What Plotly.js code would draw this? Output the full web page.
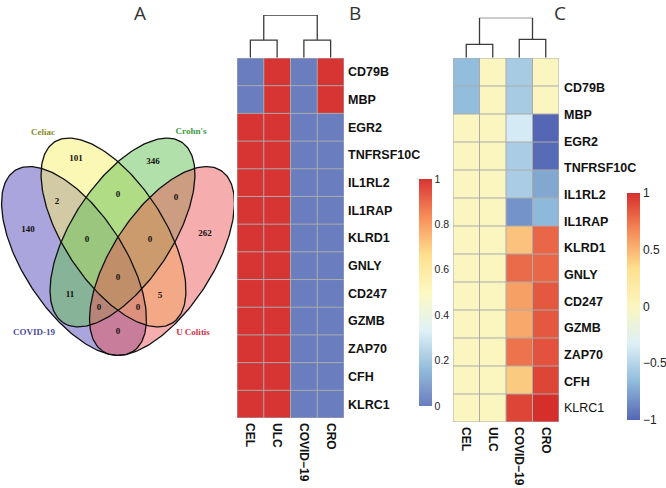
<!DOCTYPE html>
<html><head><meta charset="utf-8">
<script src="https://cdn.plot.ly/plotly-3.0.1.min.js"></script>
<style>html,body{margin:0;padding:0;background:#fff}#chart{width:666px;height:488px}</style>
</head><body><div id="chart"></div>
<script>
// ---------------- data ----------------
const genes   = ['CD79B','MBP','EGR2','TNFRSF10C','IL1RL2','IL1RAP','KLRD1','GNLY','CD247','GZMB','ZAP70','CFH','KLRC1'];
const columns = ['CEL','ULC','COVID\u221219','CRO'];
// Panel B (0..1)
const bCEL   = [0,0,1,1,1,1,1,1,1,1,1,1,1];
const bULC   = [1,1,1,1,1,1,1,1,1,1,1,1,1];
const bCOVID = [0,0,0,0,0,0,0,0,0,0,0,0,0];
const bCRO   = [1,1,0,0,0,0,0,0,0,0,0,0,0];
// Panel C (-1..1)
const cCEL   = [-0.65,-0.65,0,0,0,0,0,0,0,0,0,0,0];
const cULC   = [0,0,0,0,0,0,0,0,0,0,0,0,0];
const cCOVID = [-0.56,-0.56,-0.37,-0.55,-0.55,-0.82,0.45,0.78,0.58,0.55,0.75,0.42,0.92];
const cCRO   = [0,0,-1,-0.98,-0.74,-0.67,0.8,0.8,0.85,0.85,0.87,0.92,1];
const cBold  = [true,true,true,true,true,true,true,true,true,true,true,true,false];
// Dendrograms (merge heights)
const dendB_pairs = [0.41, 0.41], dendB_root = 1;
const dendC_pairs = [0.335, 0.46], dendC_root = 1;
// Venn
const vennSets    = ['COVID-19','Celiac',"Crohn's",'U Colitis'];
const vennRegions = ['COVID-19','Celiac',"Crohn's",'U Colitis','COVID-19&Celiac',"Celiac&Crohn's","Crohn's&U Colitis","COVID-19&Crohn's",'Celiac&U Colitis','COVID-19&U Colitis',"COVID-19&Celiac&Crohn's","Celiac&Crohn's&U Colitis","COVID-19&Crohn's&U Colitis",'COVID-19&Celiac&U Colitis','All four'];
const vennCounts  = [140,101,346,262,2,0,0,11,5,0,0,0,0,0,0];

// ---------------- geometry / style ----------------
const W=666,H=488;
const px=v=>v/W, py=v=>1-v/H;
const SANS='Liberation Sans, Arial, sans-serif';
const SERIF='Liberation Serif, Times New Roman, serif';
const idx=genes.map((g,i)=>i);
const colIdx=columns.map((c,i)=>i);
const transpose=cols=>genes.map((g,i)=>cols.map(c=>c[i]));

const zB=transpose([bCEL,bULC,bCOVID,bCRO]);
const zC=transpose([cCEL,cULC,cCOVID,cCRO]);

const scaleB=[[0,'#6a7dbf'],[1/6,'#94bedb'],[2/6,'#e0f1f6'],[0.5,'#fdf9c2'],[4/6,'#fedf8e'],[5/6,'#f88d5a'],[1,'#d73434']];
const scaleC=[[0,'#5566b4'],[1/6,'#8fbadb'],[2/6,'#dcf0f7'],[0.5,'#fbf6c0'],[4/6,'#fde08f'],[5/6,'#f58a58'],[1,'#d62f2b']];

// venn ellipses (pixel coordinates of the venn panel)
const ell=[
 {cx:74,   cy:261,   a:108,b:50,ang:56.8,  fill:'rgba(86,76,186,0.5)'},
 {cx:113.5,cy:232.5, a:108,b:50,ang:56.8,  fill:'rgba(248,240,108,0.5)'},
 {cx:122.5,cy:232.5, a:108,b:50,ang:123.2, fill:'rgba(100,194,86,0.5)'},
 {cx:162,  cy:261,   a:108,b:50,ang:123.2, fill:'rgba(234,84,84,0.48)'}
];
const regionPos=[[28,230],[76,159],[153,162],[205,234],[57,202],[118,195],[176,198],[70,295],[160,296],[118,332],[87,240],[150,240],[99,308],[138,308],[118,278]];
const setPos=[[34,333],[43,133],[191,132],[193,333]];
const setColors=['#4b4b9b','#8a8a2a','#3f9a3f','#d2344a'];

function ellipsePts(e){
  const xs=[],ys=[],r=e.ang*Math.PI/180;
  for(let k=0;k<=240;k++){const t=2*Math.PI*k/240;
    xs.push(e.cx+e.a*Math.cos(t)*Math.cos(r)-e.b*Math.sin(t)*Math.sin(r));
    ys.push(e.cy+e.a*Math.cos(t)*Math.sin(r)+e.b*Math.sin(t)*Math.cos(r));}
  return {xs,ys};
}
function dendro(pairs,root){
  return {x:[0,0,1,1,null,2,2,3,3,null,0.5,0.5,2.5,2.5],
          y:[0,pairs[0],pairs[0],0,null,0,pairs[1],pairs[1],0,null,pairs[0],root,root,pairs[1]]};
}

const traces=[];
traces.push({type:'heatmap',z:zB,x:colIdx,y:idx,xaxis:'x',yaxis:'y',zmin:0,zmax:1,colorscale:scaleB,hoverinfo:'skip',
  colorbar:{x:px(419),xanchor:'left',y:1-(179+406)/2/H,yanchor:'middle',len:(406-179)/H,lenmode:'fraction',
    thickness:13,thicknessmode:'pixels',outlinewidth:0,ticks:'',tick0:0,dtick:0.2,xpad:0,ypad:0,
    tickfont:{family:SANS,size:10.5,color:'#222'}}});
traces.push({type:'heatmap',z:zC,x:colIdx,y:idx,xaxis:'x2',yaxis:'y2',zmin:-1,zmax:1,colorscale:scaleC,hoverinfo:'skip',
  colorbar:{x:px(627),xanchor:'left',y:1-(193+420)/2/H,yanchor:'middle',len:(420-193)/H,lenmode:'fraction',
    thickness:13,thicknessmode:'pixels',outlinewidth:0,ticks:'',tickvals:[-1,-0.5,0,0.5,1],xpad:0,ypad:0,
    tickfont:{family:SANS,size:12,color:'#222'}}});
const dB=dendro(dendB_pairs,dendB_root), dC=dendro(dendC_pairs,dendC_root);
traces.push({type:'scatter',mode:'lines',x:dB.x,y:dB.y,xaxis:'x',yaxis:'y3',line:{color:'#3a3a3a',width:1.3},hoverinfo:'skip'});
traces.push({type:'scatter',mode:'lines',x:dC.x,y:dC.y,xaxis:'x2',yaxis:'y4',line:{color:'#3a3a3a',width:1.3},hoverinfo:'skip'});
traces.push({type:'scatter',mode:'markers',x:[0],y:[0],xaxis:'x2',yaxis:'y6',marker:{opacity:0},hoverinfo:'skip'});
// venn fills then outlines
ell.forEach(e=>{const p=ellipsePts(e);traces.push({type:'scatter',mode:'lines',x:p.xs,y:p.ys,xaxis:'x5',yaxis:'y5',fill:'toself',fillcolor:e.fill,line:{width:0},hoverinfo:'skip'});});
ell.forEach(e=>{const p=ellipsePts(e);traces.push({type:'scatter',mode:'lines',x:p.xs,y:p.ys,xaxis:'x5',yaxis:'y5',line:{color:'#111',width:1.3},hoverinfo:'skip'});});
traces.push({type:'scatter',mode:'text',x:regionPos.map(p=>p[0]),y:regionPos.map(p=>p[1]),text:vennCounts.map(v=>'<b>'+v+'</b>'),
  xaxis:'x5',yaxis:'y5',textfont:{family:SERIF,size:9,color:'#111'},hoverinfo:'skip'});
traces.push({type:'scatter',mode:'text',x:setPos.map(p=>p[0]),y:setPos.map(p=>p[1]),text:vennSets.map(v=>'<b>'+v+'</b>'),
  xaxis:'x5',yaxis:'y5',textfont:{family:SERIF,size:9,color:setColors},hoverinfo:'skip'});

// cell borders
const shapes=[];
function grid(xr,yr){
  for(let i=0;i<=columns.length;i++) shapes.push({type:'line',xref:xr,yref:yr,x0:i-0.5,x1:i-0.5,y0:-0.5,y1:genes.length-0.5,line:{color:'#ababab',width:1},layer:'above'});
  for(let j=0;j<=genes.length;j++) shapes.push({type:'line',xref:xr,yref:yr,x0:-0.5,x1:columns.length-0.5,y0:j-0.5,y1:j-0.5,line:{color:'#ababab',width:1},layer:'above'});
}
grid('x','y'); grid('x2','y2');

const hid={visible:false,fixedrange:true,showgrid:false,zeroline:false};
const colAxis=(dom,anchor)=>({domain:dom,anchor:anchor,range:[-0.5,3.5],tickvals:colIdx,ticktext:columns,tickangle:90,ticks:'',
  showgrid:false,zeroline:false,showline:false,ticklabelstandoff:4,tickfont:{family:SANS,size:12,color:'#111',weight:'bold'}});
const layout={
  width:W,height:H,margin:{l:0,r:0,t:0,b:0},paper_bgcolor:'#fff',plot_bgcolor:'rgba(0,0,0,0)',showlegend:false,
  xaxis:colAxis([px(237),px(344)],'y'),
  xaxis2:colAxis([px(453),px(559)],'y2'),
  yaxis:{domain:[py(418),py(58)],anchor:'x',range:[genes.length-0.5,-0.5],side:'right',tickvals:idx,ticktext:genes,ticks:'',
    showgrid:false,zeroline:false,ticklabelstandoff:3,tickfont:{family:SANS,size:12.5,color:'#111',weight:'bold'}},
  yaxis2:{domain:[py(422),py(58)],anchor:'x2',range:[genes.length-0.5,-0.5],showticklabels:false,ticks:'',showgrid:false,zeroline:false},
  yaxis6:{overlaying:'y2',anchor:'x2',side:'right',range:[12.525,-1.125],tickvals:idx,
    ticktext:genes.map((g,i)=>cBold[i]?'<b>'+g+'</b>':g),ticks:'',showgrid:false,zeroline:false,ticklabelstandoff:4,
    tickfont:{family:SANS,size:12.5,color:'#111'}},
  yaxis3:Object.assign({domain:[py(57.7),py(15)],anchor:'x',range:[0,1]},hid),
  yaxis4:Object.assign({domain:[py(57.7),py(17.7)],anchor:'x2',range:[0,1]},hid),
  xaxis5:Object.assign({domain:[0,px(234)],anchor:'y5',range:[0,234]},hid),
  yaxis5:Object.assign({domain:[py(370),py(110)],anchor:'x5',range:[370,110]},hid),
  shapes:shapes,
  annotations:[['A',140],['B',355],['C',560]].map(a=>({text:a[0],x:px(a[1]),y:py(13),xref:'paper',yref:'paper',showarrow:false,
    xanchor:'center',yanchor:'middle',font:{family:'Open Sans, DejaVu Sans, sans-serif',size:19,color:'#333'}}))
};
Plotly.newPlot('chart',traces,layout,{displayModeBar:false,staticPlot:true});
</script></body></html>
